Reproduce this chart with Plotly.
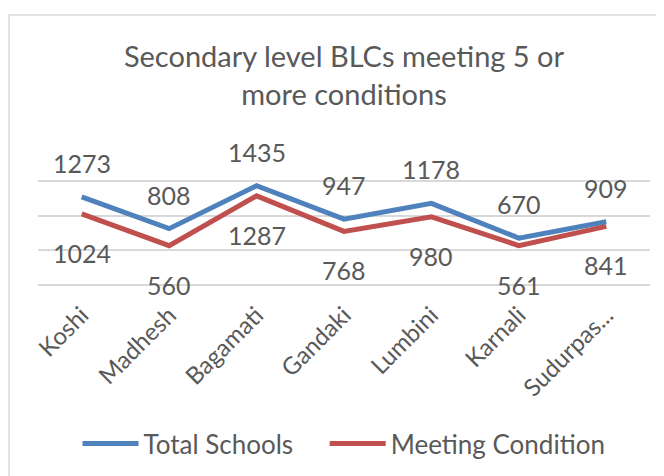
import plotly.graph_objects as go

categories = ["Koshi", "Madhesh", "Bagamati", "Gandaki", "Lumbini", "Karnali", "Sudurpas..."]
total_schools = [1273, 808, 1435, 947, 1178, 670, 909]
meeting_condition = [1024, 560, 1287, 768, 980, 561, 841]
series_names = ["Total Schools", "Meeting Condition"]

FONT = "Lato"
TXT = "#595959"
BLUE = "#4F81BD"
RED = "#C0504D"

W, H = 656, 468
ML, MT, PW, PH = 30, 139, 612, 137

fig = go.Figure()
fig.add_trace(go.Scatter(x=categories, y=total_schools, mode="lines",
                         name=series_names[0] + "\u00a0" * 4,
                         line=dict(color=BLUE, width=5)))
fig.add_trace(go.Scatter(x=categories, y=meeting_condition, mode="lines",
                         name=series_names[1],
                         line=dict(color=RED, width=5)))

annotations = []
for c, v in zip(categories, total_schools):
    annotations.append(dict(x=c, y=v, text=str(v), showarrow=False, yshift=34,
                            font=dict(family=FONT, size=25, color=TXT)))
for c, v in zip(categories, meeting_condition):
    annotations.append(dict(x=c, y=v, text=str(v), showarrow=False, yshift=-39,
                            font=dict(family=FONT, size=25, color=TXT)))

fig.update_layout(
    width=W, height=H,
    margin=dict(l=ML, r=W - ML - PW, t=MT, b=H - MT - PH, autoexpand=False),
    paper_bgcolor="white", plot_bgcolor="white",
    font=dict(family=FONT, color=TXT),
    title=dict(text="Secondary level BLCs meeting 5 or<br>more conditions",
               x=0.5, xref="paper", xanchor="center",
               y=1 - 59 / H, yref="container", yanchor="top",
               font=dict(family=FONT, size=29, color=TXT)),
    xaxis=dict(showgrid=False, tickangle=-45, tickfont=dict(family=FONT, size=24, color=TXT),
               range=[-0.5, 6.5], automargin=False,
               showline=True, linecolor="#d9d9d9", linewidth=1.5, ticks="",
               ticklabelstandoff=6),
    yaxis=dict(range=[0, 2000], dtick=500, showticklabels=False, showgrid=True,
               gridcolor="#d9d9d9", gridwidth=1.5, zeroline=False, automargin=False),
    showlegend=True,
    legend=dict(orientation="h", x=0.5, xanchor="center", y=-1.165, yanchor="middle",
                font=dict(family=FONT, size=26, color=TXT), itemwidth=56),
    annotations=annotations,
    shapes=[dict(type="rect", xref="paper", yref="paper",
                 x0=(1 - ML) / PW, x1=1.2, y0=-3, y1=(PH + MT - 7) / PH,
                 line=dict(color="#d9d9d9", width=1.5), layer="below")],
)

fig.write_html("out.html")
